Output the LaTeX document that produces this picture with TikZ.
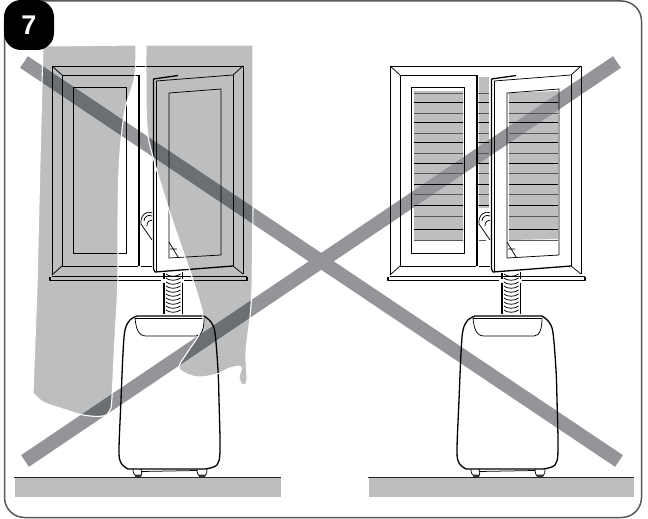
\documentclass[tikz,border=0pt]{standalone}
\usepackage{fontspec}
\setsansfont{Liberation Sans}
\usepackage{xcolor}
\usetikzlibrary{
  calc,
}
\definecolor{crossgrey}{HTML}{939598}
\definecolor{clothgrey}{HTML}{BCBEC0}
\definecolor{framegrey}{HTML}{58595B}
\definecolor{slatgrey}{HTML}{58595B}

\begin{document}
\begin{tikzpicture}[
  x=1pt, y=-1pt,
  line join=round,
  frameline/.style={draw=framegrey, line width=1.5pt},
  crossbar/.style={draw=crossgrey, line width=14pt},
  cloth/.style={fill=clothgrey, blend mode=multiply},
  clothedge/.style={draw=white, line width=1.1pt},
  ground/.style={fill=clothgrey},
  groundline/.style={draw=black!85, line width=1pt},
  art/.style={draw=black, line width=0.75pt},
  heavy/.style={draw=black, line width=1.3pt},
]
\useasboundingbox (0,0) rectangle (648,519);

\def\leftcurtain{plot[smooth, tension=0.5] coordinates {(43,46) (136,45)}
  -- plot[smooth, tension=0.6] coordinates {(136,45) (135,75) (130,93) (126,105)
     (122,130) (119,170) (118,220) (118,270) (117,303) (115,337) (112,397) (110,410)
     (103,416) (83,415) (60,408) (43,402) (33,393)}
  -- (37,287) -- (40,160) -- cycle}
\def\rightcurtain{(146,45) -- (253,45) -- (253,207) -- (252,290)
  -- plot[smooth, tension=0.6] coordinates {(252,290) (250,317) (246,353) (247,380)
     (243,385) (239,378) (241,367) (230,368) (217,374) (200,377) (187,374) (179,367)
     (187,353) (200,333) (203,318) (200,303) (192,277) (185,257) (169,210) (153,157)
     (147,127) (146,80) (146,45)}
  -- cycle}

%% grey behind the slats, right window
\fill[clothgrey] (414,91) rectangle (463,241);
\fill[clothgrey] (509,93) -- (558,91) -- (558,239) -- (509,240) -- cycle;
\fill[clothgrey] (479,77) rectangle (489,208);

%% the cross
\draw[crossbar] (24,62) -- (619,461);
\draw[crossbar] (25,461) -- (617,62);

%% slats
\foreach \ly [count=\i] in {93,102,113,122,133,142,153,163,173,184,194,205,216,229,240}{
  \ifodd\i\def\lc{slatgrey}\else\def\lc{black}\fi
  \draw[draw=\lc, line width=0.8pt] (414,\ly) -- (463,\ly);
  \ifnum\i>1
    \draw[draw=\lc, line width=0.8pt] (509,\ly) -- (558,\ly);
  \fi
  \ifnum\i<13
    \draw[draw=\lc, line width=0.7pt] (478,\ly) -- (489,\ly);
  \fi
}
\draw[slatgrey, line width=0.7pt] (479,240) -- (486,240);

%% window and unit, same drawing twice
\foreach \dx in {0,338}{
\begin{scope}[xshift=\dx]
  % window frame
  \draw[art] (52,275) -- (52,66) -- (243,66) -- (243,274);
  \draw[art] (62,266) -- (62,75) -- (138,75);
  \draw[art] (52,66) -- (62,75) (243,66) -- (233,75);
  \draw[art] (52,275) -- (62,266) (243,274) -- (233,266);
  \draw[art] (233,75) -- (233,266);
  \draw[art] (73,87.5) rectangle (126,253);
  \draw[heavy] (139,75) -- (139,266);
  \draw[art] (62,266) -- (138,266) (141,266) -- (152,266);
  \draw[art] (52,276) -- (247,276);
  \draw[draw=black, line width=1.6pt] (50,277) -- (50,280.5) -- (161,280.5);
  \draw[draw=black, line width=1.6pt] (184,280.5) -- (247,280.5) -- (247,277);
  % open sash
  \draw[heavy] (178,75.5) -- (153.5,79) -- (153.5,269) -- (155,272) -- (233,266);
  \draw[art] (156,81) -- (233,75);
  \draw[art] (156,81) -- (156,271);
  \draw[art] (169,93) -- (221,89) -- (221,255) -- (169,258) -- cycle;
  % hose behind the sash
  \draw[art] (141,224) -- (152,240);
  \draw[art] (141,224) .. controls (140,216) and (146,210) .. (152,213);
  \draw[art] (144,221) .. controls (144,217) and (148,214) .. (152,216);
  \draw[art] (147,226) .. controls (147,222) and (149,220) .. (152,220);
  \draw[art] (169,242) -- (178,257) (170,249) -- (177,249);
  % hose
  \draw[heavy] (164,283) -- (164,314) (182.5,283) -- (182.5,314);
  \draw[heavy] (164,272.5) -- (164,279) (182.5,272) -- (182.5,279);
  \foreach \ry in {274,278,...,310}{
    \draw[art] (166,\ry) .. controls (169,\ry+3) and (177,\ry+3) .. (180.5,\ry);
  }
  % unit
  \draw[heavy] plot[smooth, tension=0.55] coordinates {(137,316) (130,320) (125,330)
    (123,353) (121,400) (119,450) (121,463) (128,469)}
    -- (205,469)
    -- plot[smooth, tension=0.55] coordinates {(205,469) (217,465) (220,450) (219,400)
    (218,370) (215,333) (211,322) (204,316)} -- cycle;
  \draw[art] (135,318) .. controls (136,328) and (138,336) .. (146,336) -- (196,336)
    .. controls (202,336) and (204,328) .. (204,318);
  \draw[art] (135,318) -- (204,318);
  % wheels
  \draw[art] (141,471.5) -- (197,470.5);
  \draw[art] (133,469) .. controls (133,473) and (134,475) .. (136,476)
    -- (141,476) .. controls (142,474) and (142,472) .. (141,469);
  \draw[art] (197,469) .. controls (197,473) and (198,475) .. (199,476)
    -- (205,476) .. controls (207,474) and (207,472) .. (207,469);
  \fill[black!80] (135,474.5) rectangle (141,477) (199,474.5) rectangle (205,477);
\end{scope}
}

%% floor, left and right
\foreach \fa/\fb in {14/281,368/634}{
  \fill[ground] (\fa+1,477) rectangle (\fb,497);
  \draw[groundline] (\fa,477) -- (\fb,477);
}

%% curtains on top, so everything shows through
\fill[cloth] \leftcurtain;
\fill[cloth] \rightcurtain;
\draw[clothedge] \leftcurtain;
\draw[clothedge] \rightcurtain;

%% border and badge
\draw[frameline, rounded corners=20pt] (4.5,1) rectangle (641.5,517.5);
\node[fill=black, rounded corners=17pt, minimum width=50pt, minimum height=50pt,
  inner sep=0pt, font=\sffamily\bfseries\fontsize{27}{27}\selectfont, text=white]
  (badge) at (29,25) {7};

\end{tikzpicture}
\end{document}
